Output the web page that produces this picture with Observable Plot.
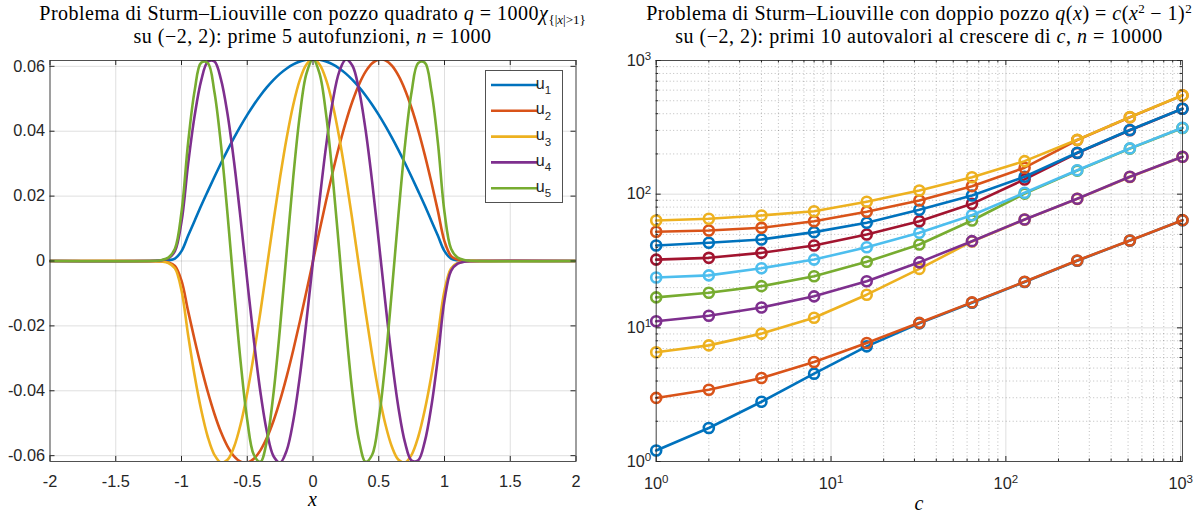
<!DOCTYPE html>
<html><head><meta charset="utf-8">
<script src="https://cdn.jsdelivr.net/npm/d3@7"></script>
<script src="https://cdn.jsdelivr.net/npm/@observablehq/plot@0.6"></script>
<style>
body{margin:0;background:#fff;}
#wrap{position:relative;width:1199px;height:513px;overflow:hidden;background:#fff;}
.title{position:absolute;top:2px;width:800px;z-index:5;font-family:"Liberation Serif","DejaVu Serif",serif;font-size:20px;letter-spacing:0.5px;color:#000;text-align:center;white-space:nowrap;line-height:23px;}
.title sub{font-size:13px;vertical-align:-4px;line-height:0;letter-spacing:0;}
.title sup{font-size:13px;vertical-align:7px;line-height:0;letter-spacing:0;}
.panel{position:absolute;top:0;z-index:1;}
</style></head><body><div id="wrap">
<div class="title" style="left:-87.5px">Problema di Sturm–Liouville con pozzo quadrato <i>q</i> = 1000<i>χ</i><sub>{|<i>x</i>|&gt;1}</sub><br>su (−2, 2): prime 5 autofunzioni, <i>n</i> = 1000</div>
<div class="title" style="left:519px">Problema di Sturm–Liouville con doppio pozzo <i>q</i>(<i>x</i>) = <i>c</i>(<i>x</i><sup>2</sup> − 1)<sup>2</sup><br>su (−2, 2): primi 10 autovalori al crescere di <i>c</i>, <i>n</i> = 10000</div>
</div>
<script>
// ---------- Left panel data: eigenfunctions u1..u5 ----------
const xs = [-2, -1.2, -1.15, -1.1, -1.05, -1, -0.95, -0.9, -0.85, -0.8, -0.75, -0.7, -0.65, -0.6, -0.55, -0.5, -0.45, -0.4, -0.35, -0.3, -0.25, -0.2, -0.15, -0.1, -0.05, 0, 0.05, 0.1, 0.15, 0.2, 0.25, 0.3, 0.35, 0.4, 0.45, 0.5, 0.55, 0.6, 0.65, 0.7, 0.75, 0.8, 0.85, 0.9, 0.95, 1, 1.05, 1.1, 1.15, 1.2, 2];
const u1 = [0, 0.00002, 0.00006, 0.00021, 0.00076, 0.00303, 0.00775, 0.01241, 0.0171, 0.02155, 0.02591, 0.03012, 0.03417, 0.03802, 0.04165, 0.04504, 0.04817, 0.05103, 0.05358, 0.05583, 0.05775, 0.05934, 0.06059, 0.06148, 0.06202, 0.0622, 0.06202, 0.06148, 0.06059, 0.05934, 0.05775, 0.05583, 0.05358, 0.05103, 0.04817, 0.04504, 0.04165, 0.03802, 0.03417, 0.03012, 0.02591, 0.02155, 0.0171, 0.01241, 0.00775, 0.00303, 0.00076, 0.00021, 0.00006, 0.00002, 0];
const u2 = [0, -0.00003, -0.00012, -0.00042, -0.00152, -0.00606, -0.01538, -0.02434, -0.03273, -0.04037, -0.04708, -0.05272, -0.05711, -0.06019, -0.06187, -0.06213, -0.06095, -0.05837, -0.05443, -0.04924, -0.0429, -0.03557, -0.02743, -0.01864, -0.00943, 0, 0.00943, 0.01864, 0.02743, 0.03557, 0.0429, 0.04924, 0.05443, 0.05837, 0.06095, 0.06213, 0.06187, 0.06019, 0.05711, 0.05272, 0.04708, 0.04037, 0.03273, 0.02434, 0.01538, 0.00606, 0.00152, 0.00042, 0.00012, 0.00003, 0];
const u3 = [0, -0.00005, -0.00018, -0.00063, -0.00227, -0.00907, -0.02274, -0.03539, -0.04595, -0.05425, -0.05973, -0.06211, -0.06127, -0.05724, -0.05024, -0.04065, -0.02894, -0.01573, -0.0017, 0.01241, 0.02589, 0.03802, 0.04817, 0.05583, 0.06059, 0.0622, 0.06059, 0.05583, 0.04817, 0.03802, 0.02589, 0.01241, -0.0017, -0.01573, -0.02894, -0.04065, -0.05024, -0.05724, -0.06127, -0.06211, -0.05973, -0.05425, -0.04595, -0.03539, -0.02274, -0.00907, -0.00227, -0.00063, -0.00018, -0.00005, 0];
const u4 = [0, 0.00006, 0.00024, 0.00084, 0.00302, 0.01206, 0.02978, 0.0448, 0.05568, 0.06142, 0.06153, 0.05599, 0.04529, 0.03043, 0.01277, -0.00606, -0.02434, -0.04037, -0.05272, -0.06019, -0.06213, -0.05837, -0.04924, -0.03557, -0.01864, 0, 0.01864, 0.03557, 0.04924, 0.05837, 0.06213, 0.06019, 0.05272, 0.04037, 0.02434, 0.00606, -0.01277, -0.03043, -0.04529, -0.05599, -0.06153, -0.06142, -0.05568, -0.0448, -0.02978, -0.01206, -0.00302, -0.00084, -0.00024, -0.00006, 0];
const u5 = [0, 0.00008, 0.0003, 0.00105, 0.00376, 0.01503, 0.03633, 0.05251, 0.06114, 0.06102, 0.05217, 0.0359, 0.01444, -0.00907, -0.03125, -0.04901, -0.05973, -0.0619, -0.05523, -0.04065, -0.02026, 0.00303, 0.02589, 0.04504, 0.05775, 0.0622, 0.05775, 0.04504, 0.02589, 0.00303, -0.02026, -0.04065, -0.05523, -0.0619, -0.05973, -0.04901, -0.03125, -0.00907, 0.01444, 0.0359, 0.05217, 0.06102, 0.06114, 0.05251, 0.03633, 0.01503, 0.00376, 0.00105, 0.0003, 0.00008, 0];
const uNames = ["1", "2", "3", "4", "5"];
const xTicksL = [-2, -1.5, -1, -0.5, 0, 0.5, 1, 1.5, 2];
const yTicksL = [-0.06, -0.04, -0.02, 0, 0.02, 0.04, 0.06];

// ---------- Right panel data: first 10 eigenvalues vs c ----------
const cVals = [1, 2, 4, 8, 16, 32, 64, 128, 256, 512, 1024];
const lam1 = [1.21, 1.78, 2.80, 4.54, 7.27, 10.8, 15.4, 22.0, 31.8, 44.9, 63.8];
const lam2 = [2.99, 3.44, 4.21, 5.55, 7.70, 10.9, 15.5, 22.1, 31.9, 45.0, 63.9];
const lam3 = [6.56, 7.39, 9.05, 11.9, 17.7, 27.6, 44.3, 64.5, 92.2, 134.5, 190];
const lam4 = [11.2, 12.3, 14.2, 17.2, 22.3, 30.9, 44.5, 64.7, 92.4, 135, 190.6];
const lam5 = [16.9, 18.3, 20.5, 24.3, 31.2, 42.0, 63.5, 101, 150, 219, 313];
const lam6 = [23.8, 24.7, 27.9, 32.4, 40.1, 51.4, 69.6, 102.4, 151, 220, 314];
const lam7 = [32.4, 33.4, 36.4, 41.3, 49.9, 62.8, 84.7, 128.9, 203, 301, 435];
const lam8 = [41.3, 43.3, 45.8, 52.0, 61.1, 76.4, 97.7, 135, 204, 302, 436];
const lam9 = [52.3, 53.5, 56.0, 62.8, 73.8, 89.7, 114.8, 157.7, 254, 376, 548];
const lam10 = [63.5, 65.4, 69.3, 74.6, 87.7, 106.6, 134, 176.7, 255, 377, 549];
const majorTicksR = [1, 10, 100, 1000];
const minorTicksR = [2, 3, 4, 5, 6, 7, 8, 9, 20, 30, 40, 50, 60, 70, 80, 90, 200, 300, 400, 500, 600, 700, 800, 900];

// MATLAB default color order
const palette = ["#0072BD", "#D95319", "#EDB120", "#7E2F8E", "#77AC30", "#4DBEEE", "#A2142F"];
const axisColor = "#262626";
const font = "'Liberation Sans', Arial, Helvetica, sans-serif";
const fs = "16.3px";

const wrap = document.getElementById("wrap");

// ---------- Left plot ----------
const H = 513;
const L = {w: 600, ml: 49.5, mr: 24.5, mt: 60, mb: 52};
const LpW = L.w - L.ml - L.mr, LpH = H - L.mt - L.mb;
const uSeries = [u1, u2, u3, u4, u5].map((u, i) => ({
  name: uNames[i], color: palette[i],
  rows: xs.map((x, j) => ({x, u: u[j]}))
}));

const left = Plot.plot({
  width: L.w, height: H,
  marginLeft: L.ml, marginRight: L.mr, marginTop: L.mt, marginBottom: L.mb,
  x: {domain: [-2, 2], label: null},
  y: {domain: [-0.0618, 0.0618], label: null},
  style: {fontFamily: font, fontSize: fs, color: axisColor, background: "transparent", overflow: "visible"},
  marks: [
    Plot.ruleX(xTicksL, {stroke: axisColor, strokeOpacity: 0.15, strokeWidth: 1}),
    Plot.ruleY(yTicksL, {stroke: axisColor, strokeOpacity: 0.15, strokeWidth: 1}),
    ...uSeries.map(s => Plot.line(s.rows, {x: "x", y: "u", stroke: s.color, strokeWidth: 2.6, curve: "catmull-rom", clip: true})),
    Plot.frame({stroke: axisColor, strokeWidth: 1, strokeOpacity: 0.8}),
    Plot.ruleX(xTicksL, {stroke: axisColor, insetTop: LpH - 5}),
    Plot.ruleX(xTicksL, {stroke: axisColor, insetBottom: LpH - 5}),
    Plot.ruleY(yTicksL, {stroke: axisColor, insetRight: LpW - 5}),
    Plot.ruleY(yTicksL, {stroke: axisColor, insetLeft: LpW - 5}),
    Plot.axisX(xTicksL, {tickSize: 0, tickPadding: 14, tickFormat: d => String(d), label: null}),
    Plot.axisY(yTicksL, {tickSize: 0, tickPadding: 5, tickFormat: d => String(d), label: null})
  ]
});
left.classList.add("panel");
left.style.left = "0px";
wrap.appendChild(left);

// legend + axis title
{
  const svg = d3.select(left);
  const g = svg.append("g");
  g.append("rect").attr("x", 485.5).attr("y", 70.5).attr("width", 77).attr("height", 132)
    .attr("fill", "white").attr("stroke", axisColor).attr("stroke-opacity", 0.8).attr("stroke-width", 1);
  uSeries.forEach((s, i) => {
    const y = 85 + i * 25.8;
    g.append("line").attr("x1", 491).attr("x2", 538).attr("y1", y).attr("y2", y)
      .attr("stroke", s.color).attr("stroke-width", 2.6);
    const t = g.append("text").attr("x", 543.5).attr("y", y + 3.5)
      .attr("font-family", font).attr("font-size", 16).attr("fill", axisColor);
    t.append("tspan").text("u");
    t.append("tspan").attr("dy", 5.5).attr("font-size", 11.5).text(s.name);
  });
  svg.append("text").attr("x", 312.5).attr("y", 506).attr("text-anchor", "middle")
    .attr("font-family", "'Liberation Serif', serif").attr("font-style", "italic").attr("font-size", 20)
    .attr("fill", "#000").text("x");
}

// ---------- Right plot ----------
const R = {w: 599, ml: 55.7, mr: 17, mt: 60, mb: 52};
const RpW = R.w - R.ml - R.mr, RpH = H - R.mt - R.mb;
const lams = [lam1, lam2, lam3, lam4, lam5, lam6, lam7, lam8, lam9, lam10];
const lSeries = lams.map((l, i) => ({
  color: palette[i % palette.length],
  rows: cVals.map((c, j) => ({c, v: l[j]}))
}));

const right = Plot.plot({
  width: R.w, height: H,
  marginLeft: R.ml, marginRight: R.mr, marginTop: R.mt, marginBottom: R.mb,
  x: {type: "log", domain: [1, 1024], label: null},
  y: {type: "log", domain: [1, 1000], label: null},
  style: {fontFamily: font, fontSize: fs, color: axisColor, background: "transparent", overflow: "visible"},
  marks: [
    Plot.ruleX(minorTicksR, {stroke: axisColor, strokeOpacity: 0.3, strokeDasharray: "1,2.5"}),
    Plot.ruleY(minorTicksR, {stroke: axisColor, strokeOpacity: 0.3, strokeDasharray: "1,2.5"}),
    Plot.ruleX(majorTicksR, {stroke: axisColor, strokeOpacity: 0.15}),
    Plot.ruleY(majorTicksR, {stroke: axisColor, strokeOpacity: 0.15}),
    ...lSeries.flatMap(s => [
      Plot.line(s.rows, {x: "c", y: "v", stroke: s.color, strokeWidth: 2.6}),
      Plot.dot(s.rows, {x: "c", y: "v", r: 5, stroke: s.color, strokeWidth: 2.6, fill: "none"})
    ]),
    Plot.frame({stroke: axisColor, strokeWidth: 1, strokeOpacity: 0.8}),
    Plot.ruleX(majorTicksR, {stroke: axisColor, insetTop: RpH - 5}),
    Plot.ruleX(majorTicksR, {stroke: axisColor, insetBottom: RpH - 5}),
    Plot.ruleY(majorTicksR, {stroke: axisColor, insetRight: RpW - 5}),
    Plot.ruleY(majorTicksR, {stroke: axisColor, insetLeft: RpW - 5}),
    Plot.ruleX(minorTicksR, {stroke: axisColor, insetTop: RpH - 2.5}),
    Plot.ruleX(minorTicksR, {stroke: axisColor, insetBottom: RpH - 2.5}),
    Plot.ruleY(minorTicksR, {stroke: axisColor, insetRight: RpW - 2.5}),
    Plot.ruleY(minorTicksR, {stroke: axisColor, insetLeft: RpW - 2.5}),
    Plot.axisX(majorTicksR, {tickSize: 0, tickPadding: 16, tickFormat: d => String(Math.round(Math.log10(d))), label: null}),
    Plot.axisY(majorTicksR, {tickSize: 0, tickPadding: 5, tickFormat: d => String(Math.round(Math.log10(d))), label: null})
  ]
});
right.classList.add("panel");
right.style.left = "600px";
wrap.appendChild(right);

{
  const svg = d3.select(right);
  svg.selectAll('g[aria-label="x-axis tick label"] text, g[aria-label="y-axis tick label"] text').each(function () {
    const e = this.textContent;
    const t = d3.select(this);
    t.text(null);
    t.append("tspan").text("10");
    t.append("tspan").attr("dy", "-0.5em").attr("font-size", "11.5px").text(e);
  });
  svg.append("text").attr("x", R.ml + RpW / 2).attr("y", 510).attr("text-anchor", "middle")
    .attr("font-family", "'Liberation Serif', serif").attr("font-style", "italic").attr("font-size", 20)
    .attr("fill", "#000").text("c");
}
</script></body></html>
